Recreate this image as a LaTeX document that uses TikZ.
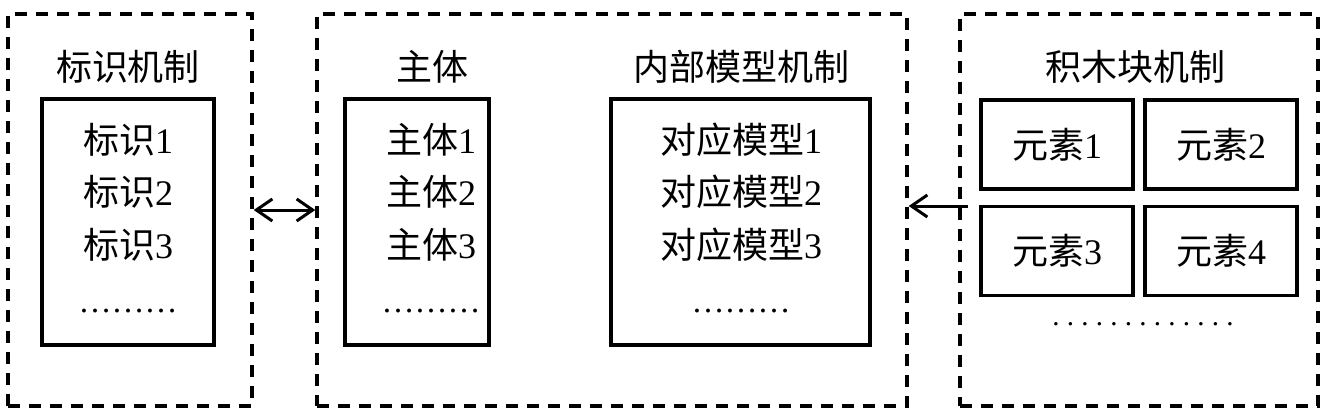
\documentclass[tikz,border=0pt]{standalone}
\usepackage{fontspec}
\setmainfont{Liberation Serif}
\newfontfamily\cjk{Noto Sans CJK SC}
\usetikzlibrary{arrows.meta}
\tikzset{
  group/.style={draw, line width=3.4pt, dash pattern=on 12pt off 9pt, minimum width=#1, inner sep=0pt, minimum height=392pt},
  listbox/.style={draw, line width=3.6pt, inner sep=0pt, minimum height=246pt, minimum width=#1},
  elem/.style={draw, line width=3.6pt, inner sep=0pt, minimum width=152pt, minimum height=89pt, font=\fontsize{36}{40}\selectfont},
  ttl/.style={font=\fontsize{36}{40}\selectfont, inner sep=0pt},
  item/.style={font=\fontsize{36}{40}\selectfont, inner sep=0pt},
  arr/.style={line width=3pt, arrows={-Straight Barb[length=16pt,width=22pt]}},
  darr/.style={line width=3pt, arrows={Straight Barb[length=16pt,width=22pt]-Straight Barb[length=16pt,width=22pt]}}
}
\begin{document}
\begin{tikzpicture}[x=1pt,y=-1pt]
\useasboundingbox (0,0) rectangle (1331,420);
% dashed groups
\node[group=244pt] (L) at (130,210) {};
\node[group=590pt] (M) at (612,210) {};
\node[group=358pt] (R) at (1139,210) {};
% titles
\node[ttl] (tL) at (128,67) {\cjk 标识机制};
\node[ttl] (tM1) at (432,67) {\cjk 主体};
\node[ttl] (tM2) at (741,67) {\cjk 内部模型机制};
\node[ttl] (tR) at (1135,67) {\cjk 积木块机制};
% list boxes
\node[listbox=172pt] (bL) at (128,222) {};
\node[listbox=144pt] (bM1) at (417,222) {};
\node[listbox=259pt] (bM2) at (740.5,222) {};
% items
\node[item] (l1) at (128,140) {{\cjk 标识}1};
\node[item] (l2) at (128,192) {{\cjk 标识}2};
\node[item] (l3) at (128,245) {{\cjk 标识}3};
\node[item, font=\fontsize{33}{36}\selectfont] (l4) at (128,311) {………};
\node[item] (m1) at (431,140) {{\cjk 主体}1};
\node[item] (m2) at (431,192) {{\cjk 主体}2};
\node[item] (m3) at (431,245) {{\cjk 主体}3};
\node[item, font=\fontsize{33}{36}\selectfont] (m4) at (431,311) {………};
\node[item] (n1) at (741,140) {{\cjk 对应模型}1};
\node[item] (n2) at (741,192) {{\cjk 对应模型}2};
\node[item] (n3) at (741,245) {{\cjk 对应模型}3};
\node[item, font=\fontsize{33}{36}\selectfont] (n4) at (741,311) {………};
% elements
\node[elem] (e1) at (1057,144.5) {{\cjk 元素}1};
\node[elem] (e2) at (1221,144.5) {{\cjk 元素}2};
\node[elem] (e3) at (1057,251) {{\cjk 元素}3};
\node[elem] (e4) at (1221,251) {{\cjk 元素}4};
\node[inner sep=0pt, font=\fontsize{29}{30}\selectfont] (ed) at (1143,324) {\frenchspacing . . . . . . . . . . . . .};
% connectors
\draw[darr] (L.east) -- (M.west);
\coordinate (a) at (968,206);
\draw[arr] (a) -- (a -| M.east);
\end{tikzpicture}
\end{document}
